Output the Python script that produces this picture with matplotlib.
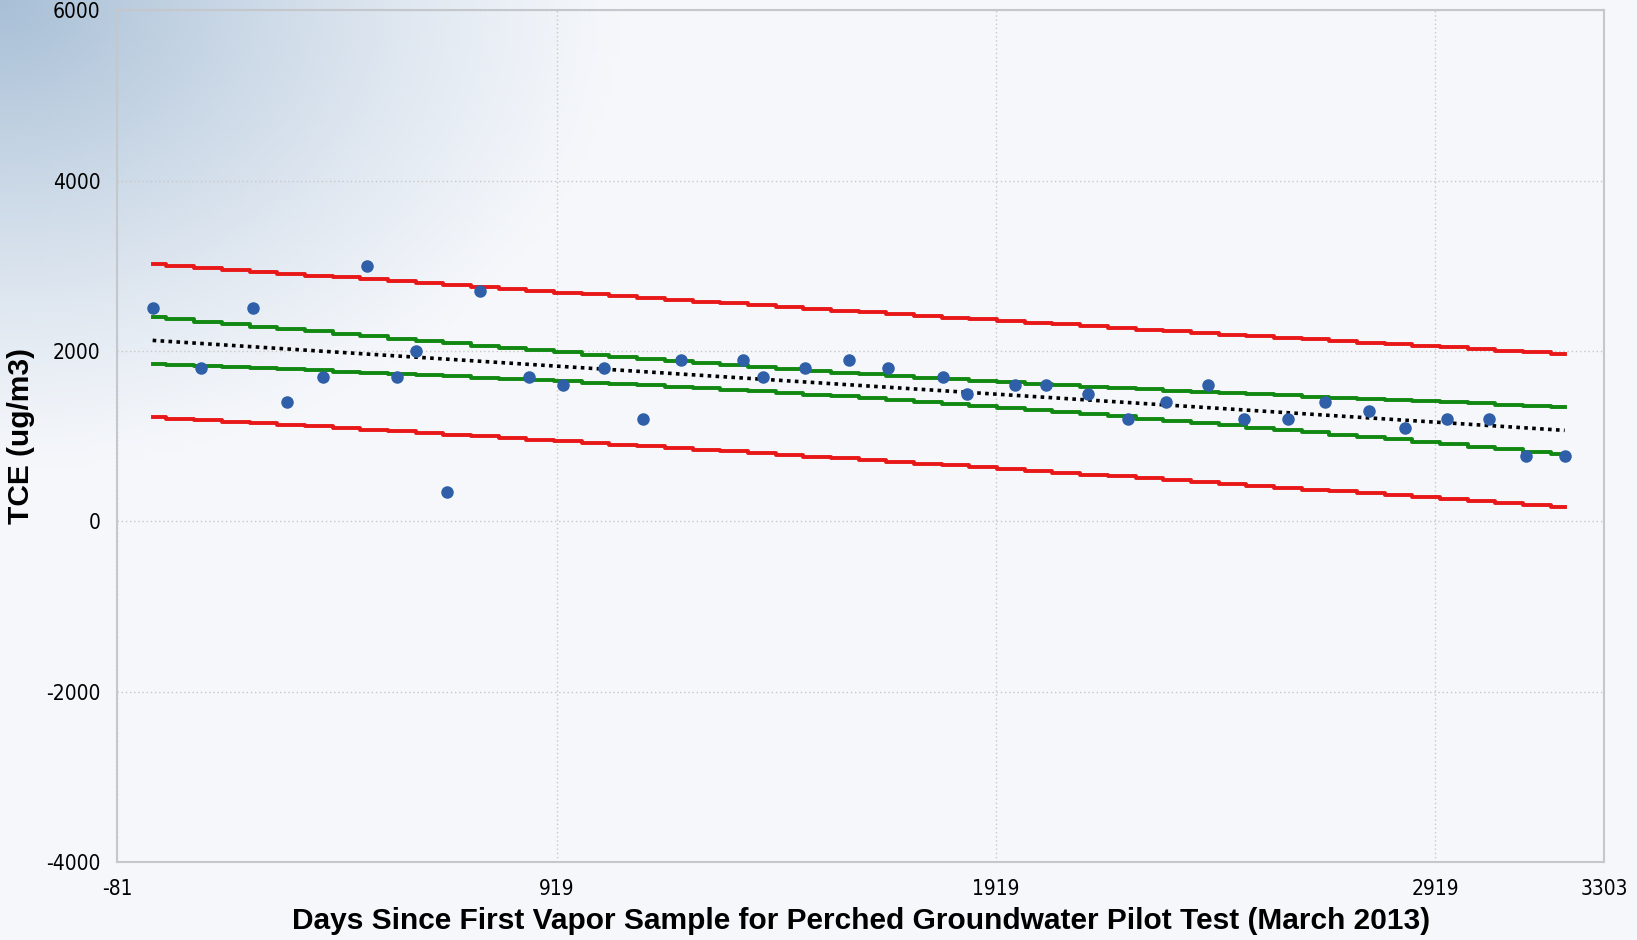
import numpy as np
import matplotlib.pyplot as plt
from matplotlib import font_manager

plt.rcParams['axes.unicode_minus'] = False

# TCE vapor samples (days since first sample, ug/m3)
days = [0, 111, 229, 305, 388, 488, 556, 599, 670, 746, 857, 933, 1028, 1116,
        1203, 1343, 1388, 1485, 1585, 1673, 1798, 1853, 1962, 2033, 2128, 2220,
        2305, 2402, 2483, 2583, 2668, 2767, 2850, 2945, 3040, 3125, 3213]
tce = [2500, 1800, 2500, 1400, 1700, 3000, 1700, 2000, 340, 2700, 1700, 1600,
       1800, 1200, 1900, 1900, 1700, 1800, 1900, 1800, 1700, 1500, 1600, 1600,
       1500, 1200, 1400, 1600, 1200, 1200, 1400, 1300, 1100, 1200, 1200, 770, 770]

xticks = [-81, 919, 1919, 2919, 3303]
yticks = [-4000, -2000, 0, 2000, 4000, 6000]

x = np.array(days, dtype=float)
y = np.array(tce, dtype=float)

# linear fit + 95% confidence / prediction bands
n = len(x)
b, a = np.polyfit(x, y, 1)
resid = y - (a + b * x)
s = np.sqrt(np.sum(resid ** 2) / (n - 2))
t = 2.03
sxx = np.sum((x - x.mean()) ** 2)
xf = np.linspace(x.min(), x.max(), 52)
yf = a + b * xf
h = (xf - x.mean()) ** 2 / sxx
conf = t * s * np.sqrt(1.0 / n + h)
pred = t * s * np.sqrt(1 + 1.0 / n + h)

# condensed font for tick labels if there is one
cond = [f for f in font_manager.fontManager.ttflist
        if 'Narrow' in f.name or 'ondensed' in str(f.stretch) or 'Condensed' in f.fname]
if cond:
    tickfont = dict(family=cond[0].name, stretch=cond[0].stretch)
else:
    tickfont = dict(family='Liberation Sans')

fig = plt.figure(figsize=(16.37, 9.40), dpi=100, facecolor='#f5f7fb')

# background gradient from top-left corner
bg = fig.add_axes([0, 0, 1, 1], zorder=-10)
gx, gy = np.meshgrid(np.linspace(0, 1, 400), np.linspace(0, 1, 230))
d = np.sqrt((gx / 0.38) ** 2 + (gy / 0.5) ** 2)
w = np.clip(1 - d, 0, 1) ** 1.2
c0 = np.array([0.961, 0.969, 0.984])
c1 = np.array([0.66, 0.75, 0.84])
img = c0[None, None, :] * (1 - w[..., None]) + c1[None, None, :] * w[..., None]
bg.imshow(img, aspect='auto', extent=[0, 1, 0, 1], origin='upper')
bg.axis('off')

ax = fig.add_axes([0.0715, 0.083, 0.9085, 0.906])
ax.set_facecolor('none')

ax.plot(xf, yf + pred, color='#e81818', lw=2.8, drawstyle='steps-mid')
ax.plot(xf, yf - pred, color='#e81818', lw=2.8, drawstyle='steps-mid')
ax.plot(xf, yf + conf, color='#118811', lw=2.8, drawstyle='steps-mid')
ax.plot(xf, yf - conf, color='#118811', lw=2.8, drawstyle='steps-mid')
ax.plot(xf, yf, color='black', lw=2.6, ls=(0, (1, 1.2)))
ax.plot(x, y, 'o', color='#2f5fa8', ms=8, zorder=5)

ax.set_xlim(-81, 3303)
ax.set_ylim(-4000, 6000)
ax.set_xticks(xticks)
ax.set_yticks(yticks)
ax.grid(True, color='#c8c8c8', ls=(0, (1, 2)), lw=1)
ax.tick_params(length=0, pad=12, labelsize=15)
for lab in ax.get_xticklabels() + ax.get_yticklabels():
    lab.set_family(tickfont['family'])
    if 'stretch' in tickfont:
        lab.set_stretch(tickfont['stretch'])
for sp in ax.spines.values():
    sp.set_color('#c4c8cc')
    sp.set_linewidth(1.5)

ax.set_xlabel('Days Since First Vapor Sample for Perched Groundwater Pilot Test (March 2013)',
              fontsize=21.5, fontweight='bold', family='Liberation Sans', labelpad=6)
ax.set_ylabel('TCE (ug/m3)', fontsize=21.5, fontweight='bold', family='Liberation Sans', labelpad=8)

fig.savefig('out.png', dpi=100, facecolor=fig.get_facecolor())
